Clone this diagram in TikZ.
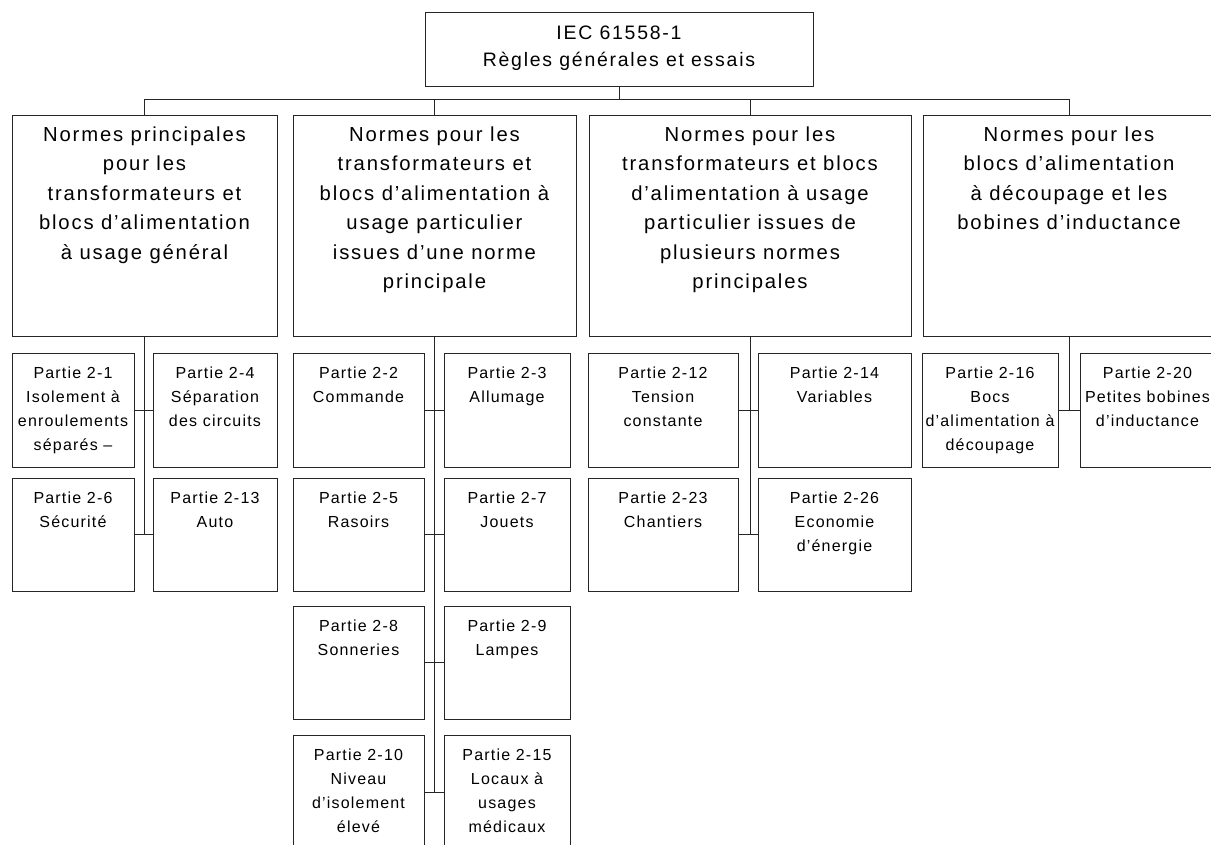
\documentclass[tikz,border=0pt]{standalone}
\usepackage{fontspec}
\setmainfont{Liberation Sans}
\newfontfamily\topfont[LetterSpace=9]{Liberation Sans}
\newfontfamily\midfont[LetterSpace=9]{Liberation Sans}
\newfontfamily\kidfont[LetterSpace=7.5]{Liberation Sans}
\usetikzlibrary{fit}
\newcommand\boxtxt[1]{\parbox[t]{300pt}{\centering #1}}
\begin{document}
\begin{tikzpicture}[x=0.75pt,y=-0.75pt,
  frame/.style={draw=black!85, line width=0.75pt, inner sep=0pt},
  link/.style={draw=black!85, line width=0.75pt},
  toptext/.style={anchor=base, inner sep=0pt, font={\topfont\fontsize{14.6}{20.25}\selectfont}},
  midtext/.style={anchor=base, inner sep=0pt, font={\midfont\fontsize{15.2}{22.1}\selectfont}},
  kidtext/.style={anchor=base, inner sep=0pt, font={\kidfont\fontsize{12}{18}\selectfont}}]
\useasboundingbox (0,0) rectangle (1211,845);
\clip (0,0) rectangle (1211,845);

% top
\node[frame, fit={(425,13) (813,87)}] (top) {};
\path (top.north) ++(0,27) node[toptext] (topt) {\boxtxt{IEC 61558-1\\Règles générales et essais}};

% level 2
\node[frame, fit={(12,116) (277,336)}] (b1) {};
\node[frame, fit={(293,116) (576,336)}] (b2) {};
\node[frame, fit={(589,116) (911,336)}] (b3) {};
\node[frame, fit={(923,116) (1215,336)}] (b4) {};
\path (b1.north) ++(0,26) node[midtext] (b1t) {\boxtxt{Normes principales\\pour les\\transformateurs et\\blocs d’alimentation\\à usage général}};
\path (b2.north) ++(0,26) node[midtext] (b2t) {\boxtxt{Normes pour les\\transformateurs et\\blocs d’alimentation à\\usage particulier\\issues d’une norme\\principale}};
\path (b3.north) ++(0,26) node[midtext] (b3t) {\boxtxt{Normes pour les\\transformateurs et blocs\\d’alimentation à usage\\particulier issues de\\plusieurs normes\\principales}};
\path (b4.north) ++(0,26) node[midtext] (b4t) {\boxtxt{Normes pour les\\blocs d’alimentation\\à découpage et les\\bobines d’inductance}};

% bus
\draw[link] (top.south) -- ++(0,13);
\draw[link] (b1.north) -- ++(0,-16) -| (b4.north);
\draw[link] (b2.north) -- ++(0,-16);
\draw[link] (b3.north) -- ++(0,-16);

% children of b1
\node[frame, fit={(12,353) (134,467)}] (c11) {};
\node[frame, fit={(153,353) (277,467)}] (c12) {};
\node[frame, fit={(12,478) (134,591)}] (c13) {};
\node[frame, fit={(153,478) (277,591)}] (c14) {};
\path (c11.north) ++(0,26) node[kidtext] (c11t) {\boxtxt{Partie 2-1\\Isolement à\\enroulements\\séparés –}};
\path (c12.north) ++(0,26) node[kidtext] (c12t) {\boxtxt{Partie 2-4\\Séparation\\des circuits}};
\path (c13.north) ++(0,26) node[kidtext] (c13t) {\boxtxt{Partie 2-6\\Sécurité}};
\path (c14.north) ++(0,26) node[kidtext] (c14t) {\boxtxt{Partie 2-13\\Auto}};
\draw[link] (b1.south) -- (b1.south |- c13.east);
\draw[link] (c11.east) -- (c12.west);
\draw[link] (c13.east) -- (c14.west);

% children of b2
\node[frame, fit={(293,353) (424,467)}] (c21) {};
\node[frame, fit={(444,353) (570,467)}] (c22) {};
\node[frame, fit={(293,478) (424,591)}] (c23) {};
\node[frame, fit={(444,478) (570,591)}] (c24) {};
\node[frame, fit={(293,606) (424,719)}] (c25) {};
\node[frame, fit={(444,606) (570,719)}] (c26) {};
\node[frame, fit={(293,735) (424,849)}] (c27) {};
\node[frame, fit={(444,735) (570,849)}] (c28) {};
\path (c21.north) ++(0,26) node[kidtext] (c21t) {\boxtxt{Partie 2-2\\Commande}};
\path (c22.north) ++(0,26) node[kidtext] (c22t) {\boxtxt{Partie 2-3\\Allumage}};
\path (c23.north) ++(0,26) node[kidtext] (c23t) {\boxtxt{Partie 2-5\\Rasoirs}};
\path (c24.north) ++(0,26) node[kidtext] (c24t) {\boxtxt{Partie 2-7\\Jouets}};
\path (c25.north) ++(0,26) node[kidtext] (c25t) {\boxtxt{Partie 2-8\\Sonneries}};
\path (c26.north) ++(0,26) node[kidtext] (c26t) {\boxtxt{Partie 2-9\\Lampes}};
\path (c27.north) ++(0,26) node[kidtext] (c27t) {\boxtxt{Partie 2-10\\Niveau\\d’isolement\\élevé}};
\path (c28.north) ++(0,26) node[kidtext] (c28t) {\boxtxt{Partie 2-15\\Locaux à\\usages\\médicaux}};
\draw[link] (b2.south) -- (b2.south |- c27.east);
\draw[link] (c21.east) -- (c22.west);
\draw[link] (c23.east) -- (c24.west);
\draw[link] (c25.east) -- (c26.west);
\draw[link] (c27.east) -- (c28.west);

% children of b3
\node[frame, fit={(588,353) (738,467)}] (c31) {};
\node[frame, fit={(758,353) (911,467)}] (c32) {};
\node[frame, fit={(588,478) (738,591)}] (c33) {};
\node[frame, fit={(758,478) (911,591)}] (c34) {};
\path (c31.north) ++(0,26) node[kidtext] (c31t) {\boxtxt{Partie 2-12\\Tension\\constante}};
\path (c32.north) ++(0,26) node[kidtext] (c32t) {\boxtxt{Partie 2-14\\Variables}};
\path (c33.north) ++(0,26) node[kidtext] (c33t) {\boxtxt{Partie 2-23\\Chantiers}};
\path (c34.north) ++(0,26) node[kidtext] (c34t) {\boxtxt{Partie 2-26\\Economie\\d’énergie}};
\draw[link] (b3.south) -- (b3.south |- c33.east);
\draw[link] (c31.east) -- (c32.west);
\draw[link] (c33.east) -- (c34.west);

% children of b4
\node[frame, fit={(922,353) (1058,467)}] (c41) {};
\node[frame, fit={(1080,353) (1215,467)}] (c42) {};
\path (c41.north) ++(0,26) node[kidtext] (c41t) {\boxtxt{Partie 2-16\\Bocs\\d’alimentation à\\découpage}};
\path (c42.north) ++(0,26) node[kidtext] (c42t) {\boxtxt{Partie 2-20\\Petites bobines\\d’inductance}};
\draw[link] (b4.south) -- (b4.south |- c41.east);
\draw[link] (c41.east) -- (c42.west);
\end{tikzpicture}
\end{document}
